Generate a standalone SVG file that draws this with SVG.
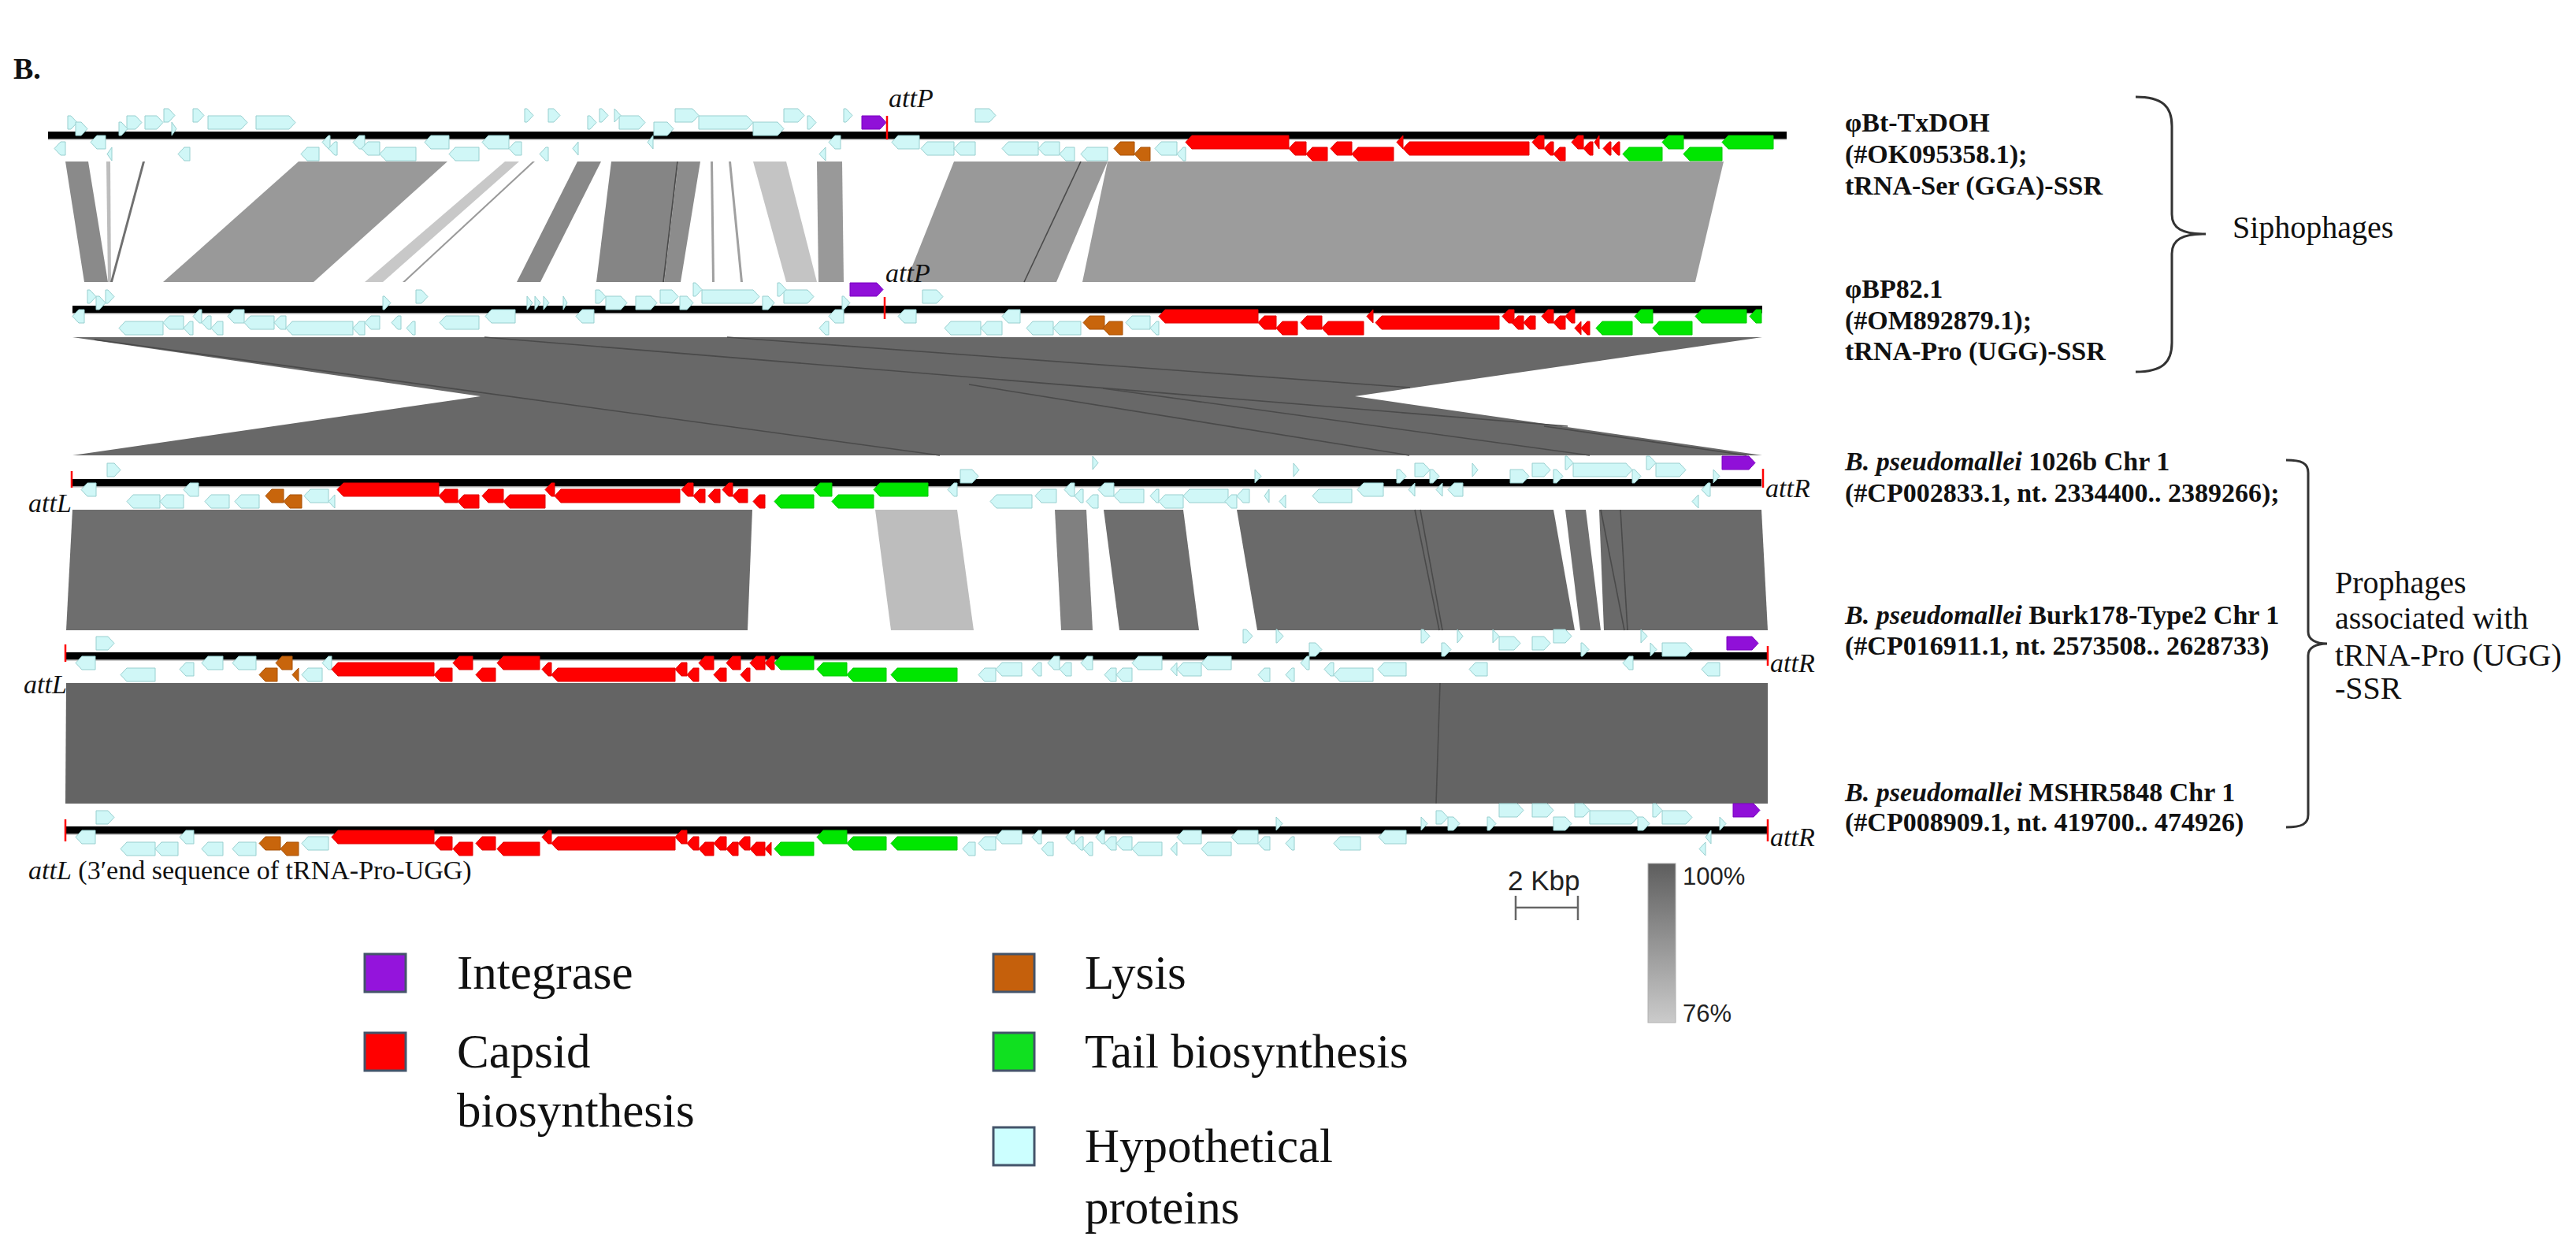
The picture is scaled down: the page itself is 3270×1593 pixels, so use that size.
<svg xmlns="http://www.w3.org/2000/svg" width="3270" height="1593" viewBox="0 0 3270 1593">
<defs>
<style>
.h{fill:#d0f7f7;stroke:#98cfcf;stroke-width:1}
.c{fill:#ff0000;stroke:#e00000;stroke-width:1}
.t{fill:#00e600;stroke:#00c800;stroke-width:1}
.l{fill:#c8650c;stroke:#a85208;stroke-width:1}
.i{fill:#9010d8;stroke:#7a00c0;stroke-width:1}
.ln{fill:#000}
.sh{fill:#9a9a9a}
.tk{stroke:#ff0000;stroke-width:2.5}
.sv{font-family:"Liberation Serif","Times New Roman",serif;fill:#111}
.lab{font-size:34px;font-weight:bold}
.grp{font-size:40px}
.att{font-size:34px;font-style:italic}
.leg{font-size:61px}
.sans{font-family:"Liberation Sans",Arial,sans-serif;fill:#222}
.lb{stroke:#44546a;stroke-width:3}
.dl{stroke:#4a4a4a;stroke-width:1.6;fill:none}
.br{fill:none;stroke:#333;stroke-width:3}
</style>
<linearGradient id="gr" x1="0" y1="0" x2="0" y2="1">
<stop offset="0" stop-color="#5e5e5e"/><stop offset="1" stop-color="#cbcbcb"/>
</linearGradient>
</defs>
<rect width="3270" height="1593" fill="#fff"/>
<text class="sv" x="17" y="100" font-size="38" font-weight="bold">B.</text>

<g id="connectors">
<polygon points="83,205 112,205 137,358 107,358" fill="#8a8a8a"/>
<polygon points="135,205 140,205 141,358 137,358" fill="#bdbdbd"/>
<polygon points="181,205 184,205 143,358 140,358" fill="#707070"/>
<polygon points="379,205 568,205 398,358 207,358" fill="#999"/>
<polygon points="641,205 659,205 486,358 463,358" fill="#c8c8c8"/>
<polygon points="676,205 679,205 514,358 511,358" fill="#9a9a9a"/>
<polygon points="733,205 763,205 686,358 656,358" fill="#888"/>
<polygon points="776,205 861,205 843,358 757,358" fill="#858585"/>
<polygon points="861,205 889,205 864,358 843,358" fill="#8c8c8c"/>
<line x1="860" y1="205" x2="842" y2="358" class="dl"/>
<polygon points="902,205 905,205 907,358 904,358" fill="#a0a0a0"/>
<polygon points="925,205 928,205 943,358 940,358" fill="#a0a0a0"/>
<polygon points="956,205 998,205 1037,358 998,358" fill="#c4c4c4"/>
<polygon points="1037,205 1069,205 1071,358 1039,358" fill="#999"/>
<polygon points="1211,205 1406,205 1341,358 1150,358" fill="#999"/>
<line x1="1372" y1="205" x2="1300" y2="358" class="dl"/>
<polygon points="1406,205 2188,205 2152,358 1374,358" fill="#9c9c9c"/>

<polygon points="92,428 2237,428 1720,503 2237,578 92,578 610,503" fill="#686868"/>
<line x1="120" y1="431" x2="1193" y2="578" class="dl"/>
<line x1="615" y1="428" x2="1990" y2="541" class="dl"/>
<line x1="923" y1="428" x2="1790" y2="492" class="dl"/>
<line x1="1230" y1="488" x2="1789" y2="578" class="dl"/>
<line x1="1400" y1="493" x2="2018" y2="578" class="dl"/>
<line x1="1960" y1="541" x2="2217" y2="578" class="dl"/>

<polygon points="92,647 955,647 949,800 84,800" fill="#6e6e6e"/>
<polygon points="1111,647 1215,647 1236,800 1131,800" fill="#bdbdbd"/>
<polygon points="1339,647 1379,647 1387,800 1347,800" fill="#808080"/>
<polygon points="1401,647 1502,647 1522,800 1421,800" fill="#6e6e6e"/>
<polygon points="1570,647 1972,647 1999,800 1596,800" fill="#6a6a6a"/>
<line x1="1796" y1="647" x2="1827" y2="800" class="dl"/>
<line x1="1803" y1="647" x2="1831" y2="800" class="dl"/>
<polygon points="1987,647 2013,647 2032,800 2006,800" fill="#707070"/>
<polygon points="2030,647 2236,647 2244,800 2036,800" fill="#6a6a6a"/>
<line x1="2032" y1="647" x2="2062" y2="800" class="dl"/>
<line x1="2057" y1="647" x2="2066" y2="800" class="dl"/>

<polygon points="84,867 2244,867 2244,1020 83,1020" fill="#646464"/>
<line x1="1828" y1="867" x2="1823" y2="1020" class="dl"/>
</g>

<g id="track1">
<rect class="ln" x="61" y="167" width="2207" height="9"/>
<rect class="sh" x="61" y="176" width="2207" height="1.5"/>
<g transform="translate(0,147)">
<path class="h" d="M86 0h4l8 8.5-8 8.5h-4zM161 0h11l8 8.5-8 8.5h-11zM184 0h15l8 8.5-8 8.5h-15zM264 0h42l8 8.5-8 8.5h-42zM325 0h42l8 8.5-8 8.5h-42zM746 0h3l8 8.5-8 8.5h-3zM786 0h25l8 8.5-8 8.5h-25zM887 0h61l8 8.5-8 8.5h-61zM1025 0h3l8 8.5-8 8.5h-3z"/>
<path class="i" d="M1094 0h23l8 8.5-8 8.5h-23z"/>
</g>
<g transform="translate(0,138)">
<path class="h" d="M208 0h6l8 8.5-8 8.5h-6zM245 0h6l8 8.5-8 8.5h-6zM666 0h3l8 8.5-8 8.5h-3zM696 0h7l8 8.5-8 8.5h-7zM761 0h3l8 8.5-8 8.5h-3zM780 0l8 8.5-8 8.5zM857 0h22l8 8.5-8 8.5h-22zM995 0h18l8 8.5-8 8.5h-18zM1071 0h3l8 8.5-8 8.5h-3zM1238 0h18l8 8.5-8 8.5h-18z"/>
</g>
<g transform="translate(0,155)">
<path class="h" d="M96 0h7l8 8.5-8 8.5h-7zM151 0h3l8 8.5-8 8.5h-3zM218 0l6 8.5-6 8.5zM830 0h17l8 8.5-8 8.5h-17zM956 0h31l8 8.5-8 8.5h-31z"/>
</g>
<g transform="translate(0,172)">
<path class="h" d="M134 0h-11l-8 8.5 8 8.5h11zM419 0h-2l-8 8.5 8 8.5h2zM463 0h-7l-8 8.5 8 8.5h7zM570 0h-23l-8 8.5 8 8.5h23zM646 0h-26l-8 8.5 8 8.5h26zM829 0l-7 8.5 7 8.5zM1067 0h-7l-8 8.5 8 8.5h7zM1167 0h-27l-8 8.5 8 8.5h27z"/>
<path class="c" d="M1636 0h-123l-8 8.5 8 8.5h123zM1781 0l-8 8.5 8 8.5zM1960 0h-7l-8 8.5 8 8.5h7zM2010 0h-7l-8 8.5 8 8.5h7zM2030 0l-6 8.5 6 8.5z"/>
<path class="t" d="M2137 0h-19l-8 8.5 8 8.5h19zM2251 0h-57l-8 8.5 8 8.5h57z"/>
</g>
<g transform="translate(0,180)">
<path class="h" d="M83 0h-6l-8 8.5 8 8.5h6zM428 0h-3l-8 8.5 8 8.5h3zM482 0h-15l-8 8.5 8 8.5h15zM662 0h-8l-8 8.5 8 8.5h8zM734 0l-7 8.5 7 8.5zM1211 0h-34l-8 8.5 8 8.5h34zM1238 0h-19l-8 8.5 8 8.5h19zM1318 0h-38l-8 8.5 8 8.5h38zM1345 0h-19l-8 8.5 8 8.5h19zM1494 0h-20l-8 8.5 8 8.5h20z"/>
<path class="l" d="M1440 0h-18l-8 8.5 8 8.5h18z"/>
<path class="c" d="M1658 0h-14l-8 8.5 8 8.5h14zM1716 0h-19l-8 8.5 8 8.5h19zM1941 0h-152l-8 8.5 8 8.5h152zM1972 0h-4l-8 8.5 8 8.5h4zM2022 0h-4l-8 8.5 8 8.5h4zM2045 0h-2l-8 8.5 8 8.5h2zM2056 0h-2l-8 8.5 8 8.5h2z"/>
</g>
<g transform="translate(0,187)">
<path class="h" d="M142 0l-6 8.5 6 8.5zM241 0h-7l-8 8.5 8 8.5h7zM405 0h-15l-8 8.5 8 8.5h15zM528 0h-38l-8 8.5 8 8.5h38zM608 0h-30l-8 8.5 8 8.5h30zM696 0h-3l-8 8.5 8 8.5h3zM1048 0l-8 8.5 8 8.5zM1364 0h-11l-8 8.5 8 8.5h11zM1406 0h-26l-8 8.5 8 8.5h26zM1505 0h-3l-8 8.5 8 8.5h3z"/>
<path class="l" d="M1460 0h-12l-8 8.5 8 8.5h12z"/>
<path class="c" d="M1685 0h-19l-8 8.5 8 8.5h19zM1769 0h-45l-8 8.5 8 8.5h45zM1987 0h-7l-8 8.5 8 8.5h7z"/>
<path class="t" d="M2110 0h-42l-8 8.5 8 8.5h42zM2186 0h-41l-8 8.5 8 8.5h41z"/>
</g>
<line class="tk" x1="1126" y1="147" x2="1126" y2="177"/>
<text class="sv att" x="1128" y="136">attP</text>
</g>

<g id="track2">
<rect class="ln" x="92" y="388" width="2145" height="9"/>
<rect class="sh" x="92" y="397" width="2145" height="1.5"/>
<g transform="translate(0,368)">
<path class="h" d="M111 0h3l8 8.5-8 8.5h-3zM134 0h3l8 8.5-8 8.5h-3zM528 0h7l8 8.5-8 8.5h-7zM756 0h5l8 8.5-8 8.5h-5zM838 0h15l8 8.5-8 8.5h-15zM891 0h65l8 8.5-8 8.5h-65zM995 0h30l8 8.5-8 8.5h-30zM1171 0h18l8 8.5-8 8.5h-18z"/>
</g>
<g transform="translate(0,359)">
<path class="h" d="M880 0h3l8 8.5-8 8.5h-3zM987 0h3l8 8.5-8 8.5h-3z"/>
<path class="i" d="M1079 0h34l8 8.5-8 8.5h-34z"/>
</g>
<g transform="translate(0,376)">
<path class="h" d="M122 0h4l8 8.5-8 8.5h-4zM486 0h2l8 8.5-8 8.5h-2zM669 0l7 8.5-7 8.5zM679 0l7 8.5-7 8.5zM690 0l7 8.5-7 8.5zM715 0l5 8.5-5 8.5zM769 0h19l8 8.5-8 8.5h-19zM807 0h19l8 8.5-8 8.5h-19zM863 0h9l8 8.5-8 8.5h-9zM968 0h7l8 8.5-8 8.5h-7zM1069 0h2l8 8.5-8 8.5h-2z"/>
</g>
<g transform="translate(0,393)">
<path class="h" d="M107 0h-7l-8 8.5 8 8.5h7zM256 0h-3l-8 8.5 8 8.5h3zM310 0h-13l-8 8.5 8 8.5h13zM654 0h-30l-8 8.5 8 8.5h30zM754 0h-15l-8 8.5 8 8.5h15zM1071 0h-11l-8 8.5 8 8.5h11zM1163 0h-15l-8 8.5 8 8.5h15zM1295 0h-15l-8 8.5 8 8.5h15z"/>
<path class="c" d="M1597 0h-118l-8 8.5 8 8.5h118zM1743 0l-8 8.5 8 8.5zM1922 0h-7l-8 8.5 8 8.5h7zM1972 0h-7l-8 8.5 8 8.5h7zM1999 0h-4l-8 8.5 8 8.5h4z"/>
<path class="t" d="M2098 0h-15l-8 8.5 8 8.5h15zM2217 0h-57l-8 8.5 8 8.5h57zM2236 0h-7l-8 8.5 8 8.5h7z"/>
</g>
<g transform="translate(0,401)">
<path class="h" d="M233 0h-18l-8 8.5 8 8.5h18zM268 0h-4l-8 8.5 8 8.5h4zM348 0h-30l-8 8.5 8 8.5h30zM363 0h-7l-8 8.5 8 8.5h7zM482 0h-11l-8 8.5 8 8.5h11zM509 0h-4l-8 8.5 8 8.5h4zM608 0h-42l-8 8.5 8 8.5h42zM1460 0h-23l-8 8.5 8 8.5h23z"/>
<path class="l" d="M1402 0h-19l-8 8.5 8 8.5h19z"/>
<path class="c" d="M1620 0h-15l-8 8.5 8 8.5h15zM1678 0h-19l-8 8.5 8 8.5h19zM1903 0h-149l-8 8.5 8 8.5h149zM1934 0h-7l-8 8.5 8 8.5h7zM1949 0h-7l-8 8.5 8 8.5h7zM1987 0h-7l-8 8.5 8 8.5h7z"/>
</g>
<g transform="translate(0,408)">
<path class="h" d="M207 0h-48l-8 8.5 8 8.5h48zM245 0h-4l-8 8.5 8 8.5h4zM283 0h-7l-8 8.5 8 8.5h7zM448 0h-77l-8 8.5 8 8.5h77zM463 0h-7l-8 8.5 8 8.5h7zM527 0h-3l-8 8.5 8 8.5h3zM1052 0h-4l-8 8.5 8 8.5h4zM1245 0h-38l-8 8.5 8 8.5h38zM1272 0h-19l-8 8.5 8 8.5h19zM1337 0h-26l-8 8.5 8 8.5h26zM1372 0h-27l-8 8.5 8 8.5h27zM1471 0h-3l-8 8.5 8 8.5h3z"/>
<path class="l" d="M1425 0h-17l-8 8.5 8 8.5h17z"/>
<path class="c" d="M1647 0h-19l-8 8.5 8 8.5h19zM1731 0h-45l-8 8.5 8 8.5h45zM2007 0l-8 8.5 8 8.5zM2018 0h-3l-8 8.5 8 8.5h3z"/>
<path class="t" d="M2072 0h-38l-8 8.5 8 8.5h38zM2148 0h-42l-8 8.5 8 8.5h42z"/>
</g>
<line class="tk" x1="1123" y1="377" x2="1123" y2="405"/>
<text class="sv att" x="1124" y="358">attP</text>
</g>

<g id="track3">
<rect class="ln" x="92" y="608" width="2144" height="9"/>
<rect class="sh" x="92" y="617" width="2144" height="1.5"/>
<g transform="translate(0,588)">
<path class="h" d="M136 0h9l8 8.5-8 8.5h-9zM1642 0l7 8.5-7 8.5zM1796 0h11l8 8.5-8 8.5h-11zM1869 0l7 8.5-7 8.5zM1945 0h15l8 8.5-8 8.5h-15zM1997 0h67l8 8.5-8 8.5h-67zM2102 0h30l8 8.5-8 8.5h-30z"/>
</g>
<g transform="translate(0,579)">
<path class="h" d="M1387 0l7 8.5-7 8.5zM1987 0h2l8 8.5-8 8.5h-2zM2090 0h4l8 8.5-8 8.5h-4z"/>
<path class="i" d="M2186 0h34l8 8.5-8 8.5h-34z"/>
</g>
<g transform="translate(0,596)">
<path class="h" d="M1219 0h15l8 8.5-8 8.5h-15zM1593 0l8 8.5-8 8.5zM1773 0h4l8 8.5-8 8.5h-4zM1815 0h4l8 8.5-8 8.5h-4zM1917 0h16l8 8.5-8 8.5h-16zM1972 0h4l8 8.5-8 8.5h-4zM2072 0h3l8 8.5-8 8.5h-3zM2175 0l8 8.5-8 8.5z"/>
</g>
<g transform="translate(0,613)">
<path class="h" d="M122 0h-11l-8 8.5 8 8.5h11zM252 0h-11l-8 8.5 8 8.5h11zM1215 0h-4l-8 8.5 8 8.5h4zM1364 0h-5l-8 8.5 8 8.5h5zM1414 0h-12l-8 8.5 8 8.5h12zM1756 0h-25l-8 8.5 8 8.5h25zM1796 0l-8 8.5 8 8.5zM1831 0l-8 8.5 8 8.5zM1857 0h-11l-8 8.5 8 8.5h11zM2171 0h-3l-8 8.5 8 8.5h3z"/>
<path class="c" d="M557 0h-121l-8 8.5 8 8.5h121zM704 0h-4l-8 8.5 8 8.5h4zM880 0h-7l-8 8.5 8 8.5h7zM930 0h-5l-8 8.5 8 8.5h5z"/>
<path class="t" d="M1056 0h-15l-8 8.5 8 8.5h15zM1178 0h-61l-8 8.5 8 8.5h61z"/>
</g>
<g transform="translate(0,621)">
<path class="h" d="M417 0h-23l-8 8.5 8 8.5h23zM1341 0h-19l-8 8.5 8 8.5h19zM1375 0h-3l-8 8.5 8 8.5h3zM1452 0h-30l-8 8.5 8 8.5h30zM1471 0h-3l-8 8.5 8 8.5h3zM1559 0h-49l-8 8.5 8 8.5h49zM1586 0h-8l-8 8.5 8 8.5h8zM1611 0l-6 8.5 6 8.5zM1716 0h-42l-8 8.5 8 8.5h42z"/>
<path class="l" d="M360 0h-15l-8 8.5 8 8.5h15z"/>
<path class="c" d="M581 0h-16l-8 8.5 8 8.5h16zM639 0h-19l-8 8.5 8 8.5h19zM863 0h-151l-8 8.5 8 8.5h151zM895 0h-7l-8 8.5 8 8.5h7zM914 0h-7l-8 8.5 8 8.5h7zM949 0h-11l-8 8.5 8 8.5h11z"/>
</g>
<g transform="translate(0,628)">
<path class="h" d="M203 0h-34l-8 8.5 8 8.5h34zM233 0h-22l-8 8.5 8 8.5h22zM291 0h-23l-8 8.5 8 8.5h23zM329 0h-23l-8 8.5 8 8.5h23zM425 0l-8 8.5 8 8.5zM1310 0h-45l-8 8.5 8 8.5h45zM1394 0h-7l-8 8.5 8 8.5h7zM1502 0h-23l-8 8.5 8 8.5h23zM1570 0h-7l-8 8.5 8 8.5h7zM1632 0l-8 8.5 8 8.5zM2156 0l-8 8.5 8 8.5z"/>
<path class="l" d="M383 0h-15l-8 8.5 8 8.5h15z"/>
<path class="c" d="M608 0h-19l-8 8.5 8 8.5h19zM692 0h-45l-8 8.5 8 8.5h45zM971 0h-7l-8 8.5 8 8.5h7z"/>
<path class="t" d="M1033 0h-42l-8 8.5 8 8.5h42zM1109 0h-45l-8 8.5 8 8.5h45z"/>
</g>
<line class="tk" x1="91" y1="598" x2="91" y2="619"/>
<line class="tk" x1="2238" y1="595" x2="2238" y2="619"/>
<text class="sv att" x="36" y="650">attL</text>
<text class="sv att" x="2241" y="631">attR</text>
</g>

<g id="track4">
<rect class="ln" x="84" y="828" width="2160" height="9"/>
<rect class="sh" x="84" y="837" width="2160" height="1.5"/>
<g transform="translate(0,799)">
<path class="h" d="M1578 0h4l8 8.5-8 8.5h-4zM1620 0h1l8 8.5-8 8.5h-1zM1804 0h3l8 8.5-8 8.5h-3zM1850 0l7 8.5-7 8.5zM1895 0l8 8.5-8 8.5zM1972 0h15l8 8.5-8 8.5h-15zM2083 0l8 8.5-8 8.5z"/>
</g>
<g transform="translate(0,808)">
<path class="h" d="M122 0h15l8 8.5-8 8.5h-15zM1903 0h19l8 8.5-8 8.5h-19zM1945 0h15l8 8.5-8 8.5h-15z"/>
<path class="i" d="M2192 0h32l8 8.5-8 8.5h-32z"/>
</g>
<g transform="translate(0,816)">
<path class="h" d="M1662 0h8l8 8.5-8 8.5h-8zM1830 0h4l8 8.5-8 8.5h-4zM2007 0h2l8 8.5-8 8.5h-2zM2095 0l8 8.5-8 8.5zM2110 0h30l8 8.5-8 8.5h-30z"/>
</g>
<g transform="translate(0,833)">
<path class="h" d="M121 0h-17l-8 8.5 8 8.5h17zM283 0h-19l-8 8.5 8 8.5h19zM325 0h-22l-8 8.5 8 8.5h22zM421 0h-4l-8 8.5 8 8.5h4zM1345 0h-7l-8 8.5 8 8.5h7zM1387 0h-7l-8 8.5 8 8.5h7zM1475 0h-30l-8 8.5 8 8.5h30zM1563 0h-30l-8 8.5 8 8.5h30zM1662 0h-3l-8 8.5 8 8.5h3zM2073 0h-5l-8 8.5 8 8.5h5z"/>
<path class="l" d="M371 0h-13l-8 8.5 8 8.5h13z"/>
<path class="c" d="M600 0h-17l-8 8.5 8 8.5h17zM685 0h-46l-8 8.5 8 8.5h46zM906 0h-11l-8 8.5 8 8.5h11zM940 0h-10l-8 8.5 8 8.5h10zM971 0h-11l-8 8.5 8 8.5h11zM983 0h-4l-8 8.5 8 8.5h4z"/>
<path class="t" d="M1033 0h-42l-8 8.5 8 8.5h42z"/>
</g>
<g transform="translate(0,841)">
<path class="h" d="M246 0h-10l-8 8.5 8 8.5h10zM1297 0h-25l-8 8.5 8 8.5h25zM1322 0h-4l-8 8.5 8 8.5h4zM1360 0h-7l-8 8.5 8 8.5h7zM1494 0l-8 8.5 8 8.5zM1525 0h-23l-8 8.5 8 8.5h23zM1693 0h-4l-8 8.5 8 8.5h4zM1785 0h-28l-8 8.5 8 8.5h28zM1888 0h-15l-8 8.5 8 8.5h15zM2183 0h-15l-8 8.5 8 8.5h15z"/>
<path class="c" d="M551 0h-122l-8 8.5 8 8.5h122zM700 0h-4l-8 8.5 8 8.5h4zM872 0h-7l-8 8.5 8 8.5h7z"/>
<path class="t" d="M1075 0h-30l-8 8.5 8 8.5h30z"/>
</g>
<g transform="translate(0,848)">
<path class="h" d="M197 0h-36l-8 8.5 8 8.5h36zM409 0h-18l-8 8.5 8 8.5h18zM1264 0h-14l-8 8.5 8 8.5h14zM1417 0h-7l-8 8.5 8 8.5h7zM1437 0h-12l-8 8.5 8 8.5h12zM1612 0h-7l-8 8.5 8 8.5h7zM1643 0h-3l-8 8.5 8 8.5h3zM1743 0h-42l-8 8.5 8 8.5h42z"/>
<path class="l" d="M352 0h-15l-8 8.5 8 8.5h15zM379 0l-8 8.5 8 8.5z"/>
<path class="c" d="M574 0h-15l-8 8.5 8 8.5h15zM629 0h-17l-8 8.5 8 8.5h17zM857 0h-149l-8 8.5 8 8.5h149zM887 0h-7l-8 8.5 8 8.5h7zM922 0h-8l-8 8.5 8 8.5h8zM952 0h-4l-8 8.5 8 8.5h4z"/>
<path class="t" d="M1125 0h-42l-8 8.5 8 8.5h42zM1215 0h-76l-8 8.5 8 8.5h76z"/>
</g>
<line class="tk" x1="83" y1="818" x2="83" y2="840"/>
<line class="tk" x1="2244" y1="820" x2="2244" y2="845"/>
<text class="sv att" x="30" y="880">attL</text>
<text class="sv att" x="2247" y="853">attR</text>
</g>

<g id="track5">
<rect class="ln" x="83" y="1049" width="2161" height="9"/>
<rect class="sh" x="83" y="1058" width="2161" height="1.5"/>
<g transform="translate(0,1020)">
<path class="h" d="M1903 0h23l8 8.5-8 8.5h-23zM1945 0h19l8 8.5-8 8.5h-19zM1999 0h11l8 8.5-8 8.5h-11zM2098 0h4l8 8.5-8 8.5h-4z"/>
<path class="i" d="M2200 0h26l8 8.5-8 8.5h-26z"/>
</g>
<g transform="translate(0,1029)">
<path class="h" d="M122 0h15l8 8.5-8 8.5h-15zM1823 0h7l8 8.5-8 8.5h-7zM2018 0h53l8 8.5-8 8.5h-53zM2110 0h30l8 8.5-8 8.5h-30z"/>
</g>
<g transform="translate(0,1037)">
<path class="h" d="M1620 0l8 8.5-8 8.5zM1804 0l8 8.5-8 8.5zM1838 0h7l8 8.5-8 8.5h-7zM1888 0h3l8 8.5-8 8.5h-3zM1972 0h15l8 8.5-8 8.5h-15zM2079 0h7l8 8.5-8 8.5h-7zM2183 0l8 8.5-8 8.5z"/>
</g>
<g transform="translate(0,1054)">
<path class="h" d="M121 0h-17l-8 8.5 8 8.5h17zM246 0h-10l-8 8.5 8 8.5h10zM1297 0h-25l-8 8.5 8 8.5h25zM1322 0h-4l-8 8.5 8 8.5h4zM1364 0h-3l-8 8.5 8 8.5h3zM1402 0h-3l-8 8.5 8 8.5h3zM1525 0h-23l-8 8.5 8 8.5h23zM1597 0h-26l-8 8.5 8 8.5h26zM1785 0h-27l-8 8.5 8 8.5h27zM2172 0l-7 8.5 7 8.5z"/>
<path class="c" d="M551 0h-122l-8 8.5 8 8.5h122zM700 0h-4l-8 8.5 8 8.5h4zM872 0h-7l-8 8.5 8 8.5h7z"/>
<path class="t" d="M1075 0h-30l-8 8.5 8 8.5h30z"/>
</g>
<g transform="translate(0,1062)">
<path class="h" d="M417 0h-26l-8 8.5 8 8.5h26zM1264 0h-14l-8 8.5 8 8.5h14zM1375 0h-3l-8 8.5 8 8.5h3zM1417 0h-7l-8 8.5 8 8.5h7zM1437 0h-12l-8 8.5 8 8.5h12zM1612 0h-7l-8 8.5 8 8.5h7zM1643 0h-3l-8 8.5 8 8.5h3zM1727 0h-26l-8 8.5 8 8.5h26z"/>
<path class="l" d="M356 0h-19l-8 8.5 8 8.5h19z"/>
<path class="c" d="M574 0h-15l-8 8.5 8 8.5h15zM629 0h-17l-8 8.5 8 8.5h17zM857 0h-149l-8 8.5 8 8.5h149zM887 0h-7l-8 8.5 8 8.5h7zM922 0h-8l-8 8.5 8 8.5h8zM952 0h-7l-8 8.5 8 8.5h7z"/>
<path class="t" d="M1125 0h-42l-8 8.5 8 8.5h42zM1215 0h-76l-8 8.5 8 8.5h76z"/>
</g>
<g transform="translate(0,1069)">
<path class="h" d="M197 0h-36l-8 8.5 8 8.5h36zM226 0h-21l-8 8.5 8 8.5h21zM283 0h-19l-8 8.5 8 8.5h19zM325 0h-22l-8 8.5 8 8.5h22zM1238 0h-8l-8 8.5 8 8.5h8zM1337 0h-7l-8 8.5 8 8.5h7zM1387 0h-4l-8 8.5 8 8.5h4zM1475 0h-30l-8 8.5 8 8.5h30zM1494 0l-8 8.5 8 8.5zM1563 0h-30l-8 8.5 8 8.5h30zM2165 0l-8 8.5 8 8.5z"/>
<path class="l" d="M379 0h-15l-8 8.5 8 8.5h15z"/>
<path class="c" d="M600 0h-17l-8 8.5 8 8.5h17zM685 0h-46l-8 8.5 8 8.5h46zM906 0h-11l-8 8.5 8 8.5h11zM937 0h-7l-8 8.5 8 8.5h7zM971 0h-11l-8 8.5 8 8.5h11zM979 0l-8 8.5 8 8.5z"/>
<path class="t" d="M1033 0h-42l-8 8.5 8 8.5h42z"/>
</g>
<line class="tk" x1="83" y1="1040" x2="83" y2="1068"/>
<line class="tk" x1="2244" y1="1040" x2="2244" y2="1068"/>
<text class="sv att" x="36" y="1116">attL<tspan font-style="normal"> (3′end sequence of tRNA-Pro-UGG)</tspan></text>
<text class="sv att" x="2247" y="1074">attR</text>
</g>

<g id="labels">
<text class="sv lab" x="2342" y="167">φBt-TxDOH</text>
<text class="sv lab" x="2342" y="207">(#OK095358.1);</text>
<text class="sv lab" x="2342" y="247">tRNA-Ser (GGA)-SSR</text>
<text class="sv lab" x="2342" y="378">φBP82.1</text>
<text class="sv lab" x="2342" y="418">(#OM892879.1);</text>
<text class="sv lab" x="2342" y="457">tRNA-Pro (UGG)-SSR</text>
<text class="sv lab" x="2342" y="597"><tspan font-style="italic">B. pseudomallei</tspan> 1026b Chr 1</text>
<text class="sv lab" x="2342" y="637">(#CP002833.1, nt. 2334400.. 2389266);</text>
<text class="sv lab" x="2342" y="792"><tspan font-style="italic">B. pseudomallei</tspan> Burk178-Type2 Chr 1</text>
<text class="sv lab" x="2342" y="831">(#CP016911.1, nt. 2573508.. 2628733)</text>
<text class="sv lab" x="2342" y="1017"><tspan font-style="italic">B. pseudomallei</tspan> MSHR5848 Chr 1</text>
<text class="sv lab" x="2342" y="1055">(#CP008909.1, nt. 419700.. 474926)</text>
<path class="br" d="M2711,123 C2745,123 2757,135 2757,160 L2757,272 C2757,290 2770,297 2800,297 C2770,297 2757,304 2757,322 L2757,435 C2757,460 2745,472 2711,472"/>
<text class="sv grp" x="2834" y="302">Siphophages</text>
<path class="br" stroke-width="2.5" d="M2902,584 C2922,584 2930,588 2930,600 L2930,802 C2930,812 2940,817 2954,817 C2940,817 2930,822 2930,832 L2930,1034 C2930,1046 2922,1050 2902,1050"/>
<text class="sv grp" x="2964" y="753">Prophages</text>
<text class="sv grp" x="2964" y="798">associated with</text>
<text class="sv grp" x="2964" y="845">tRNA-Pro (UGG)</text>
<text class="sv grp" x="2964" y="887">-SSR</text>
</g>

<g id="scale">
<text class="sans" x="1914" y="1130" font-size="35">2 Kbp</text>
<path d="M1924,1152H2003M1924,1137V1168M2003,1137V1168" stroke="#666" stroke-width="2.5" fill="none"/>
<rect x="2092" y="1096" width="35" height="202" fill="url(#gr)" stroke="#b0b0b0" stroke-width="1"/>
<text class="sans" x="2136" y="1123" font-size="31">100%</text>
<text class="sans" x="2136" y="1297" font-size="31">76%</text>
</g>

<g id="legend">
<rect class="lb" x="463" y="1211" width="52" height="48" fill="#9414dc"/>
<text class="sv leg" x="580" y="1255">Integrase</text>
<rect class="lb" x="463" y="1311" width="52" height="48" fill="#ff0000"/>
<text class="sv leg" x="580" y="1355">Capsid</text>
<text class="sv leg" x="580" y="1430">biosynthesis</text>
<rect class="lb" x="1261" y="1211" width="52" height="48" fill="#c5600c"/>
<text class="sv leg" x="1377" y="1255">Lysis</text>
<rect class="lb" x="1261" y="1311" width="52" height="48" fill="#10e020"/>
<text class="sv leg" x="1377" y="1355">Tail biosynthesis</text>
<rect class="lb" x="1261" y="1431" width="52" height="48" fill="#ccffff"/>
<text class="sv leg" x="1377" y="1475">Hypothetical</text>
<text class="sv leg" x="1377" y="1553">proteins</text>
</g>
</svg>
